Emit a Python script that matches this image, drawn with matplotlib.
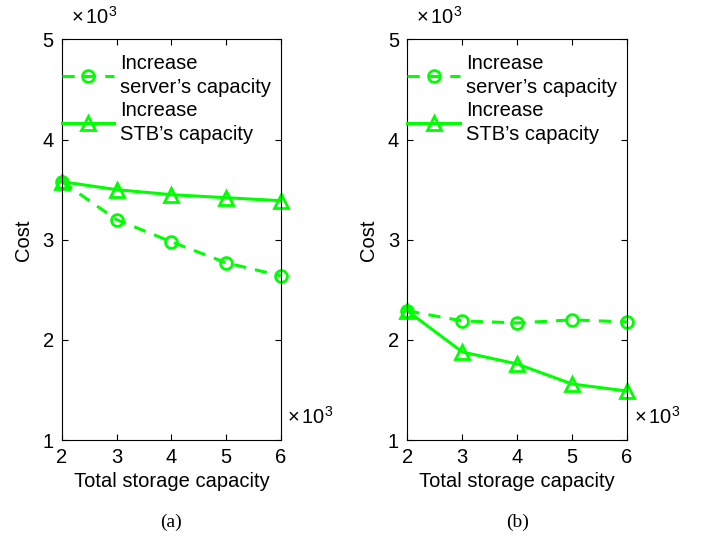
import matplotlib
matplotlib.use('Agg')
import matplotlib.pyplot as plt

plt.rcParams['font.family'] = ['Liberation Sans', 'DejaVu Sans']
plt.rcParams['mathtext.fontset'] = 'custom'
plt.rcParams['mathtext.rm'] = 'Liberation Sans'
plt.rcParams['mathtext.it'] = 'Liberation Sans'

# data (values in units of 10^3)
capacity = [2, 3, 4, 5, 6]
server_a = [3.58, 3.20, 2.98, 2.77, 2.64]
stb_a = [3.58, 3.50, 3.45, 3.42, 3.39]
server_b = [2.29, 2.19, 2.17, 2.20, 2.18]
stb_b = [2.29, 1.88, 1.76, 1.56, 1.49]
labels = ['Increase\nserver\u2019s capacity', 'Increase\nSTB\u2019s capacity']
captions = ['(a)', '(b)']

green = (0, 1, 0)
fs = 14.5

fig = plt.figure(figsize=(7.06, 5.40), dpi=100)
ax1 = fig.add_axes([0.0878, 0.185, 0.310, 0.742])
ax2 = fig.add_axes([0.577, 0.185, 0.311, 0.742])

for ax, srv, stb, cap in [(ax1, server_a, stb_a, captions[0]), (ax2, server_b, stb_b, captions[1])]:
    ax.plot(capacity, srv, '--', color=green, lw=2.2, marker='o', ms=8.5,
            mfc='none', mew=2, label=labels[0], dashes=(4, 3), clip_on=False)
    ax.plot(capacity, stb, '-', color=green, lw=2.2, marker='^', ms=10.5,
            mfc='none', mew=2, label=labels[1], clip_on=False)
    ax.set_xlim(2, 6)
    ax.set_ylim(1, 5)
    ax.set_xticks(capacity)
    ax.set_yticks([1, 2, 3, 4, 5])
    ax.tick_params(direction='in', top=True, right=True, labelsize=fs, length=4, pad=6)
    ax.set_xlabel('Total storage capacity', fontsize=fs, labelpad=3)
    ax.set_ylabel('Cost', fontsize=fs, labelpad=7)
    ax.text(0.04, 1.04, r'$\times\,10^3$', transform=ax.transAxes, fontsize=fs, ha='left', va='baseline')
    ax.text(1.03, 0.04, r'$\times\,10^3$', transform=ax.transAxes, fontsize=fs, ha='left', va='baseline')
    leg = ax.legend(loc='upper left', bbox_to_anchor=(0, 0.964), frameon=False, fontsize=fs,
                    handlelength=2.6, handletextpad=0.3, borderaxespad=0.0, borderpad=0.0,
                    labelspacing=0.2)
    for t in leg.get_texts():
        t.set_linespacing(1.35)
    ax.text(0.5, -0.205, cap, transform=ax.transAxes, fontsize=14,
            family='Liberation Serif', ha='center', va='center')

fig.savefig('out.png', dpi=100)
